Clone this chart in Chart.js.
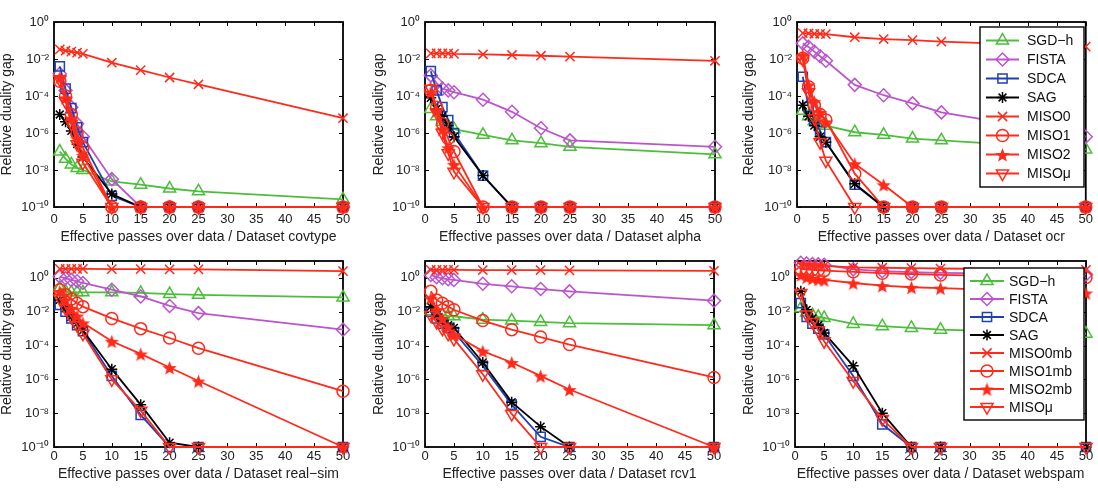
<!DOCTYPE html>
<html>
<head>
<meta charset="utf-8">
<script src="https://cdn.jsdelivr.net/npm/chart.js@4.4.1/dist/chart.umd.min.js"></script>
<style>
  html, body { margin: 0; padding: 0; background: #fff; }
  #wrap { position: relative; width: 1098px; height: 488px; }
  .panel { position: absolute; width: 366px; height: 244px; }
</style>
</head>
<body>
<div id="wrap">
  <div class="panel" style="left:0;top:0"><canvas id="c0" width="366" height="244"></canvas></div>
  <div class="panel" style="left:366px;top:0"><canvas id="c1" width="366" height="244"></canvas></div>
  <div class="panel" style="left:732px;top:0"><canvas id="c2" width="366" height="244"></canvas></div>
  <div class="panel" style="left:0;top:244px"><canvas id="c3" width="366" height="244"></canvas></div>
  <div class="panel" style="left:366px;top:244px"><canvas id="c4" width="366" height="244"></canvas></div>
  <div class="panel" style="left:732px;top:244px"><canvas id="c5" width="366" height="244"></canvas></div>
</div>
<script>
// effective passes over data (x values shared by every curve)
const passes = [1, 2, 3, 4, 5, 10, 15, 20, 25, 50];
const xTicks = [0, 5, 10, 15, 20, 25, 30, 35, 40, 45, 50];
const yTickValues = [1e-10, 1e-8, 1e-6, 1e-4, 1e-2, 1];
const yTickLabels = ['10⁻¹⁰', '10⁻⁸', '10⁻⁶', '10⁻⁴', '10⁻²', '10⁰'];

const namesTop = ['SGD−h', 'FISTA', 'SDCA', 'SAG', 'MISO0', 'MISO1', 'MISO2', 'MISOμ'];
const namesBottom = ['SGD−h', 'FISTA', 'SDCA', 'SAG', 'MISO0mb', 'MISO1mb', 'MISO2mb', 'MISOμ'];
const datasetNames = ['covtype', 'alpha', 'ocr', 'real−sim', 'rcv1', 'webspam'];

// covtype
const covtypeSGD   = [1e-7, 4e-8, 2e-8, 1.3e-8, 1e-8, 2.4e-9, 1.6e-9, 1e-9, 7e-10, 2.6e-10];
const covtypeFISTA = [1.6e-3, 2e-4, 2.5e-5, 3.2e-6, 6.3e-7, 3.2e-9, 1e-10, 1e-10, 1e-10, 1e-10];
const covtypeSDCA  = [4e-3, 2.5e-4, 2.2e-5, 2e-6, 3.2e-7, 4e-10, 1e-10, 1e-10, 1e-10, 1e-10];
const covtypeSAG   = [1e-5, 4e-6, 1.3e-6, 2.5e-7, 5e-8, 5e-10, 1e-10, 1e-10, 1e-10, 1e-10];
const covtypeMISO0 = [3.3e-2, 2.8e-2, 2.5e-2, 2.2e-2, 1.9e-2, 6.3e-3, 2.5e-3, 1e-3, 4.3e-4, 6.3e-6];
const covtypeMISO1 = [6.3e-4, 1e-4, 1e-5, 1e-6, 1.6e-7, 1e-10, 1e-10, 1e-10, 1e-10, 1e-10];
const covtypeMISO2 = [1e-3, 8e-5, 6.3e-6, 5e-7, 6.3e-8, 1e-10, 1e-10, 1e-10, 1e-10, 1e-10];
const covtypeMISOmu = [8e-4, 5e-5, 3.2e-6, 2.5e-7, 2.5e-8, 1e-10, 1e-10, 1e-10, 1e-10, 1e-10];

// alpha
const alphaSGD   = [2e-5, 8e-6, 4e-6, 2.5e-6, 1.6e-6, 8e-7, 4e-7, 2.8e-7, 1.8e-7, 7e-8];
const alphaFISTA = [1.3e-3, 5e-4, 2.5e-4, 2e-4, 1.6e-4, 6.3e-5, 1.4e-5, 1.8e-6, 4e-7, 1.8e-7];
const alphaSDCA  = [2.2e-3, 2e-4, 2.5e-5, 5e-6, 1e-6, 5e-9, 1e-10, 1e-10, 1e-10, 1e-10];
const alphaSAG   = [8e-5, 2e-5, 8e-6, 2.5e-6, 6.3e-7, 5e-9, 1e-10, 1e-10, 1e-10, 1e-10];
const alphaMISO0 = [2e-2, 2e-2, 2e-2, 2e-2, 1.9e-2, 1.8e-2, 1.65e-2, 1.5e-2, 1.35e-2, 8e-3];
const alphaMISO1 = [2e-4, 2.5e-5, 3.2e-6, 5e-7, 1e-7, 1e-10, 1e-10, 1e-10, 1e-10, 1e-10];
const alphaMISO2 = [1.6e-4, 1.6e-5, 1.6e-6, 1.6e-7, 2e-8, 1e-10, 1e-10, 1e-10, 1e-10, 1e-10];
const alphaMISOmu = [2.5e-4, 1.3e-5, 1e-6, 8e-8, 8e-9, 1e-10, 1e-10, 1e-10, 1e-10, 1e-10];

// ocr
const ocrSGD   = [1.6e-5, 8e-6, 4.5e-6, 3.2e-6, 2.5e-6, 1.1e-6, 8e-7, 5e-7, 4e-7, 1.3e-7];
const ocrFISTA = [7e-2, 4.5e-2, 2.5e-2, 1.4e-2, 8e-3, 4e-4, 1.1e-4, 4e-5, 1.3e-5, 6.3e-7];
const ocrSDCA  = [1.1e-3, 2.5e-5, 5e-6, 1.3e-6, 3.2e-7, 1.6e-9, 1e-10, 1e-10, 1e-10, 1e-10];
const ocrSAG   = [3.2e-5, 8e-6, 2.5e-6, 6.3e-7, 3.2e-7, 1.8e-9, 1e-10, 1e-10, 1e-10, 1e-10];
const ocrMISO0 = [2.5e-1, 2.4e-1, 2.3e-1, 2.3e-1, 2.2e-1, 1.5e-1, 1.2e-1, 1.05e-1, 8.7e-2, 4.7e-2];
const ocrMISO1 = [1.1e-2, 3.2e-4, 3.2e-5, 1e-5, 5e-6, 6.3e-9, 1e-10, 1e-10, 1e-10, 1e-10];
const ocrMISO2 = [1.6e-2, 4e-4, 5e-5, 1.3e-5, 4e-6, 2.2e-8, 1.6e-9, 1e-10, 1e-10, 1e-10];
const ocrMISOmu = [1e-2, 1.6e-4, 6.3e-6, 3.2e-7, 3.2e-8, 1e-10, 1e-10, 1e-10, 1e-10, 1e-10];

// real-sim
const realsimSGD   = [0.25, 0.16, 0.14, 0.14, 0.14, 0.14, 0.13, 0.11, 0.1, 0.07];
const realsimFISTA = [1.2, 0.95, 0.76, 0.63, 0.5, 0.2, 0.08, 2.2e-2, 8.3e-3, 8.7e-4];
const realsimSDCA  = [2.5e-2, 1e-2, 4e-3, 1.6e-3, 7e-4, 1.6e-6, 8e-9, 1e-10, 1e-10, 1e-10];
const realsimSAG   = [5e-2, 1.6e-2, 5e-3, 2e-3, 8e-4, 4e-6, 3.2e-8, 1.8e-10, 1e-10, 1e-10];
const realsimMISO0 = [3.4, 3.4, 3.4, 3.4, 3.4, 3.3, 3.3, 3.2, 3.2, 2.5];
const realsimMISO1 = [0.2, 0.1, 5.6e-2, 3.2e-2, 2e-2, 4e-3, 1e-3, 2.8e-4, 7e-5, 2e-7];
const realsimMISO2 = [0.16, 5e-2, 1.6e-2, 5.6e-3, 2.2e-3, 1.8e-4, 3.2e-5, 5e-6, 8e-7, 1e-10];
const realsimMISOmu = [6.3e-2, 1.6e-2, 5e-3, 1.6e-3, 5e-4, 1e-6, 1.4e-8, 1e-10, 1e-10, 1e-10];

// rcv1
const rcv1SGD   = [1.1e-2, 8e-3, 6.3e-3, 5.6e-3, 5.4e-3, 3.4e-3, 3e-3, 2.5e-3, 2.1e-3, 1.6e-3];
const rcv1FISTA = [1.5, 1.1, 0.95, 0.83, 0.76, 0.45, 0.32, 0.22, 0.16, 4.5e-2];
const rcv1SDCA  = [1e-2, 4e-3, 2e-3, 1.1e-3, 6.3e-4, 6.3e-6, 3.2e-8, 4e-10, 1e-10, 1e-10];
const rcv1SAG   = [2e-2, 6.3e-3, 2.8e-3, 1.6e-3, 1.1e-3, 1e-5, 4.5e-8, 1.6e-9, 1e-10, 1e-10];
const rcv1MISO0 = [3.0, 3.0, 3.0, 3.0, 3.0, 2.9, 2.9, 2.9, 2.8, 2.6];
const rcv1MISO1 = [0.16, 5e-2, 3.2e-2, 2e-2, 1.3e-2, 3e-3, 8.7e-4, 3.2e-4, 1.15e-4, 1.3e-6];
const rcv1MISO2 = [6.3e-2, 1.3e-2, 4e-3, 1.3e-3, 4.5e-4, 4.7e-5, 1e-5, 1.6e-6, 2.5e-7, 1e-10];
const rcv1MISOmu = [6.3e-3, 2.5e-3, 1e-3, 5e-4, 2.5e-4, 2e-6, 9e-9, 1e-10, 1e-10, 1e-10];

// webspam
const webspamSGD   = [1.6e-2, 9e-3, 6.3e-3, 5e-3, 4.3e-3, 1.9e-3, 1.4e-3, 1.1e-3, 8.7e-4, 5e-4];
const webspamFISTA = [7.9, 7.1, 6.6, 6.3, 6.0, 3.2, 2.5, 2.2, 2.0, 1.6];
const webspamSDCA  = [3.2e-2, 5e-3, 2e-3, 1e-3, 4.5e-4, 1.6e-6, 2.2e-9, 1e-10, 1e-10, 1e-10];
const webspamSAG   = [0.16, 1.3e-2, 4e-3, 1.6e-3, 5.6e-4, 6.3e-6, 1e-8, 1e-10, 1e-10, 1e-10];
const webspamMISO0 = [5.6, 5.6, 5.5, 5.4, 5.2, 4.2, 4.0, 3.8, 3.6, 3.0];
const webspamMISO1 = [3.5, 3.2, 3.0, 2.8, 2.7, 2.3, 1.9, 1.7, 1.5, 1.05];
const webspamMISO2 = [1.5, 1.1, 0.95, 0.83, 0.76, 0.5, 0.35, 0.28, 0.25, 0.13];
const webspamMISOmu = [0.13, 6.8e-3, 2.5e-3, 8e-4, 1.8e-4, 8e-7, 4.5e-9, 1e-10, 1e-10, 1e-10];

const panelSeries = [
  [covtypeSGD, covtypeFISTA, covtypeSDCA, covtypeSAG, covtypeMISO0, covtypeMISO1, covtypeMISO2, covtypeMISOmu],
  [alphaSGD, alphaFISTA, alphaSDCA, alphaSAG, alphaMISO0, alphaMISO1, alphaMISO2, alphaMISOmu],
  [ocrSGD, ocrFISTA, ocrSDCA, ocrSAG, ocrMISO0, ocrMISO1, ocrMISO2, ocrMISOmu],
  [realsimSGD, realsimFISTA, realsimSDCA, realsimSAG, realsimMISO0, realsimMISO1, realsimMISO2, realsimMISOmu],
  [rcv1SGD, rcv1FISTA, rcv1SDCA, rcv1SAG, rcv1MISO0, rcv1MISO1, rcv1MISO2, rcv1MISOmu],
  [webspamSGD, webspamFISTA, webspamSDCA, webspamSAG, webspamMISO0, webspamMISO1, webspamMISO2, webspamMISOmu],
];

const FONT = 'Liberation Sans, Arial, Helvetica, sans-serif';
const RED = '#ff2a1a';

// filled pentagram marker (MATLAB 'p')
function pentagram(color, r) {
  const c = document.createElement('canvas');
  const s = Math.ceil(r * 2 + 2);
  c.width = s; c.height = s;
  const g = c.getContext('2d');
  g.fillStyle = color;
  g.beginPath();
  for (let i = 0; i < 10; i++) {
    const a = -Math.PI / 2 + i * Math.PI / 5;
    const rr = i % 2 === 0 ? r : r * 0.42;
    g.lineTo(s / 2 + rr * Math.cos(a), s / 2 + 1 + rr * Math.sin(a));
  }
  g.closePath();
  g.fill();
  return c;
}

const starMarker = pentagram(RED, 7.5);

const seriesStyle = [
  { color: '#4cbf3a', point: 'triangle', radius: 7, rot: 0 },
  { color: '#bb55cc', point: 'rectRot', radius: 6.5, rot: 0 },
  { color: '#1f3fb5', point: 'rect', radius: 6.5, rot: 0 },
  { color: '#000000', point: 'star', radius: 5.5, rot: 0 },
  { color: RED, point: 'crossRot', radius: 6.5, rot: 0 },
  { color: RED, point: 'circle', radius: 6, rot: 0 },
  { color: RED, point: starMarker, radius: 7, rot: 0 },
  { color: RED, point: 'triangle', radius: 7, rot: 180 },
];

// per-panel placement of the plot box inside its 366x244 canvas
const layoutSpec = [
  { left: 54, right: 23, top: 22, xh: 37, yPad: 0, ymax: 1 },
  { left: 59, right: 17, top: 22, xh: 37, yPad: 6, ymax: 1 },
  { left: 65, right: 12, top: 22, xh: 37, yPad: 10, ymax: 1 },
  { left: 54, right: 23, top: 17, xh: 41, yPad: 0, ymax: 10 },
  { left: 59, right: 18, top: 17, xh: 41, yPad: 6, ymax: 10 },
  { left: 63, right: 12, top: 17, xh: 41, yPad: 10, ymax: 10 },
];

const legendSpec = [
  false, false,
  { x: 248, y: 27, w: 104, rowH: 19, pad: 4, sx: 6, sw: 33, gap: 8 },
  false, false,
  { x: 232, y: 24, w: 120, rowH: 18, pad: 4, sx: 6, sw: 34, gap: 5 },
];

// axes box with MATLAB-style inward ticks
const framePlugin = {
  id: 'frame',
  beforeDatasetsDraw(chart) {
    const { ctx, chartArea: a, scales: { x, y } } = chart;
    ctx.save();
    ctx.strokeStyle = '#000';
    ctx.lineWidth = 1;
    ctx.beginPath();
    x.ticks.forEach(t => {
      const px = Math.round(x.getPixelForValue(t.value)) + 0.5;
      ctx.moveTo(px, a.bottom); ctx.lineTo(px, a.bottom - 4);
      ctx.moveTo(px, a.top); ctx.lineTo(px, a.top + 4);
    });
    y.ticks.forEach(t => {
      const py = Math.round(y.getPixelForValue(t.value)) + 0.5;
      ctx.moveTo(a.left, py); ctx.lineTo(a.left + 4, py);
      ctx.moveTo(a.right, py); ctx.lineTo(a.right - 4, py);
    });
    ctx.stroke();
    ctx.lineWidth = 1.8;
    ctx.strokeRect(a.left, a.top, a.right - a.left, a.bottom - a.top);
    ctx.restore();
  }
};

// boxed legend inside the plot area
const boxLegend = {
  id: 'boxLegend',
  afterDraw(chart, args, opts) {
    if (!opts || opts.x === undefined) return;
    const ctx = chart.ctx;
    const ds = chart.data.datasets;
    const h = opts.pad * 2 + ds.length * opts.rowH;
    ctx.save();
    ctx.fillStyle = '#fff';
    ctx.fillRect(opts.x, opts.y, opts.w, h);
    ctx.strokeStyle = '#000';
    ctx.lineWidth = 1.4;
    ctx.strokeRect(opts.x, opts.y, opts.w, h);
    ds.forEach((d, i) => {
      const cy = opts.y + opts.pad + opts.rowH * (i + 0.5);
      const x0 = opts.x + opts.sx;
      ctx.strokeStyle = d.borderColor;
      ctx.lineWidth = d.borderWidth;
      ctx.beginPath();
      ctx.moveTo(x0, cy); ctx.lineTo(x0 + opts.sw, cy);
      ctx.stroke();
      ctx.fillStyle = d.pointBackgroundColor;
      ctx.strokeStyle = d.pointBorderColor;
      ctx.lineWidth = d.pointBorderWidth;
      Chart.helpers.drawPoint(ctx, {
        pointStyle: d.pointStyle, rotation: d.pointRotation, radius: d.pointRadius,
        borderWidth: d.pointBorderWidth
      }, x0 + opts.sw / 2, cy);
      ctx.fillStyle = '#111';
      ctx.font = '14px ' + FONT;
      ctx.textBaseline = 'middle';
      ctx.textAlign = 'left';
      ctx.fillText(d.label, x0 + opts.sw + opts.gap, cy + 1);
    });
    ctx.restore();
  }
};

panelSeries.forEach((series, p) => {
  const lay = layoutSpec[p];
  const names = p < 3 ? namesTop : namesBottom;
  const datasets = series.map((vals, i) => {
    const st = seriesStyle[i];
    return {
      label: names[i],
      data: vals.map((v, k) => ({ x: passes[k], y: v })),
      borderColor: st.color,
      borderWidth: 1.8,
      pointStyle: st.point,
      pointRotation: st.rot,
      pointRadius: st.radius,
      pointBorderColor: st.color,
      pointBackgroundColor: 'rgba(0,0,0,0)',
      pointBorderWidth: 1.5,
      tension: 0,
      clip: false,
      order: 7 - i,
    };
  });

  new Chart(document.getElementById('c' + p), {
    type: 'line',
    data: { datasets },
    options: {
      responsive: false,
      animation: false,
      events: [],
      layout: { padding: { left: 0, right: lay.right, top: lay.top, bottom: 0 } },
      plugins: {
        legend: { display: false },
        tooltip: { enabled: false },
        boxLegend: legendSpec[p],
      },
      scales: {
        x: {
          type: 'linear',
          min: 0, max: 50,
          afterBuildTicks: s => { s.ticks = xTicks.map(v => ({ value: v })); },
          afterFit: s => { s.height = lay.xh; },
          grid: { display: false, drawTicks: false },
          border: { display: false },
          ticks: {
            color: '#222', font: { family: FONT, size: 13 },
            padding: p < 3 ? 5 : 2, maxRotation: 0, autoSkip: false,
          },
          title: {
            display: true,
            text: 'Effective passes over data / Dataset ' + datasetNames[p],
            color: '#222', font: { family: FONT, size: 14, lineHeight: 1 },
            padding: { top: 0, bottom: p < 3 ? 0 : 7 },
          },
        },
        y: {
          type: 'logarithmic',
          min: 1e-10, max: lay.ymax,
          afterBuildTicks: s => { s.ticks = yTickValues.map(v => ({ value: v })); },
          afterFit: s => { s.width = lay.left; },
          grid: { display: false, drawTicks: false },
          border: { display: false },
          ticks: {
            color: '#222', font: { family: FONT, size: 13 }, padding: 5,
            callback: (v, idx) => yTickLabels[idx],
          },
          title: {
            display: true,
            text: 'Relative duality gap',
            color: '#222', font: { family: FONT, size: 14, lineHeight: 1 },
            padding: { top: lay.yPad, bottom: 0 },
          },
        },
      },
    },
    plugins: [framePlugin, boxLegend],
  });
});
</script>
</body>
</html>
